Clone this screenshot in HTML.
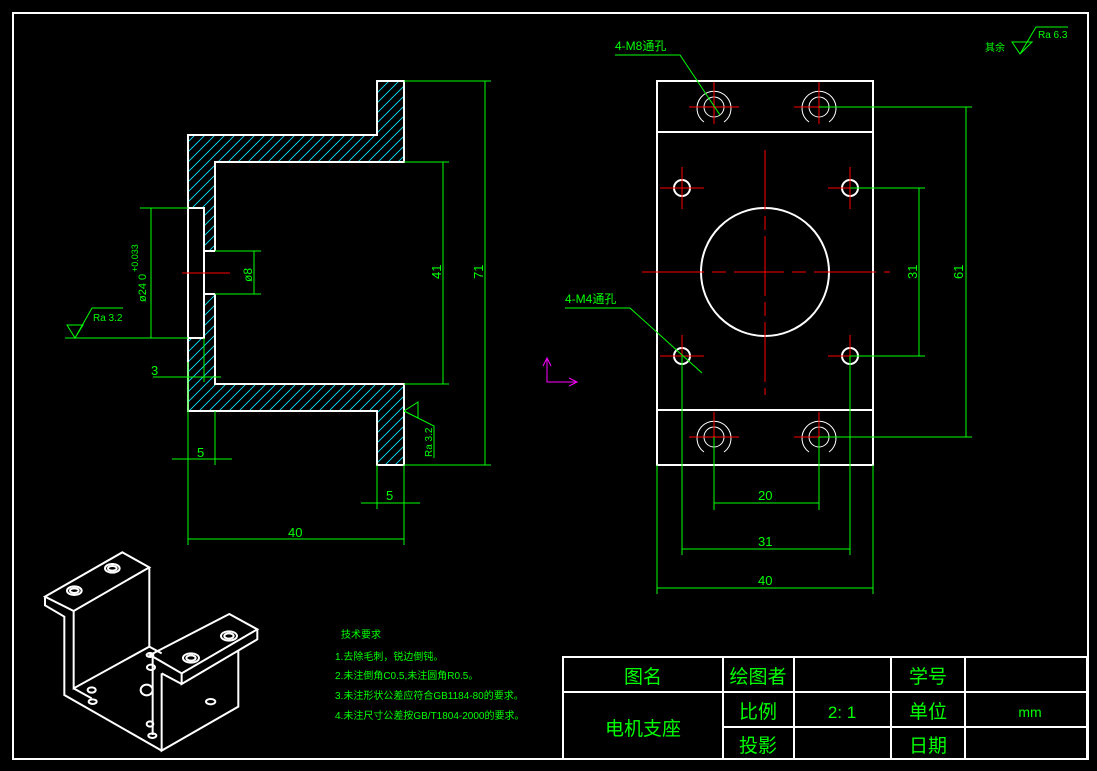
<!DOCTYPE html>
<html><head><meta charset="utf-8"><style>
html,body{margin:0;padding:0;background:#000;}
svg{display:block;}
text{font-family:"Liberation Sans","Noto Sans CJK SC",sans-serif;fill:#00ff00;}
</style></head><body>
<svg width="1097" height="771" viewBox="0 0 1097 771" xmlns="http://www.w3.org/2000/svg">
<defs>
<pattern id="h" patternUnits="userSpaceOnUse" width="10" height="10">
<path d="M0,10 L10,0 M-5,5 L5,-5 M5,15 L15,5" stroke="#00e5ff" stroke-width="0.9"/>
</pattern>
</defs>
<rect x="0" y="0" width="1097" height="771" fill="#000"/>
<rect x="13" y="13" width="1075" height="746" fill="none" stroke="#fff" stroke-width="2"/>

<!-- Section view -->
<path d="M188,135 L377,135 L377,81 L404,81 L404,162 L215,162 L215,384 L404,384 L404,465 L377,465 L377,411 L188,411 Z" fill="url(#h)" stroke="none"/>
<rect x="189" y="208" width="15" height="130" fill="#000"/>
<rect x="204" y="251" width="11" height="43" fill="#000"/>
<g stroke="#fff" stroke-width="2" fill="none">
<path d="M215,251 L215,162 L404,162 L404,81 L377,81 L377,135 L188,135 L188,411 L377,411 L377,465 L404,465 L404,384 L215,384 L215,294"/>
<path d="M188,208 L204,208 L204,338 L188,338 M204,251 L215,251 M204,294 L215,294"/>
</g>
<line x1="182" y1="273" x2="230" y2="273" stroke="#f00" stroke-width="1"/>
<g stroke="#00ff00" stroke-width="1" fill="none">
<path d="M404,81 L491,81 M404,465 L491,465 M485,81 L485,465"/>
<path d="M404,162 L449,162 M404,384 L449,384 M443,162 L443,384"/>
<path d="M140,208 L188,208 M65,338 L188,338 M151,208 L151,338"/>
<path d="M215,251 L261,251 M215,294 L261,294 M254,251 L254,294"/>
<path d="M153,377 L221,377 M188,362 L188,414 M204,338 L204,382"/>
<path d="M172,459 L232,459 M188,411 L188,465 M215,411 L215,465"/>
<path d="M361,503 L420,503 M377,465 L377,509 M404,465 L404,509"/>
<path d="M188,539 L404,539 M188,465 L188,545 M404,465 L404,545"/>
<path d="M67,325 L83,325 L75,338 Z M75,338 L92,308 L123,308"/>
<path d="M404,411 L418,402 L418,418 Z M404,411 L434,426 L434,458"/>
</g>
<text transform="translate(146,302) rotate(-90)" font-size="11">ø24 0</text>
<text transform="translate(138,272) rotate(-90)" font-size="9">+0.033</text>
<text transform="translate(252,282) rotate(-90)" font-size="12">ø8</text>
<text transform="translate(441,279) rotate(-90)" font-size="13">41</text>
<text transform="translate(483,279) rotate(-90)" font-size="13">71</text>
<text x="151" y="375" font-size="13">3</text>
<text x="197" y="457" font-size="13">5</text>
<text x="386" y="500" font-size="13">5</text>
<text x="288" y="537" font-size="13">40</text>
<text x="93" y="321" font-size="10">Ra 3.2</text>
<text transform="translate(432,457) rotate(-90)" font-size="10">Ra 3.2</text>

<!-- Top view -->
<g stroke="#fff" stroke-width="2" fill="none">
<rect x="657" y="81" width="216" height="384"/>
<path d="M657,132 L873,132 M657,410 L873,410"/>
<circle cx="765" cy="272" r="64"/>
<circle cx="682" cy="188" r="8"/><circle cx="850" cy="188" r="8"/>
<circle cx="682" cy="356" r="8"/><circle cx="850" cy="356" r="8"/>
</g>
<g stroke="#fff" stroke-width="1" fill="none">
<circle cx="714" cy="107" r="10"/><path d="M704,122 A17,17 0 1 1 724,122"/>
<circle cx="819" cy="107" r="10"/><path d="M809,122 A17,17 0 1 1 829,122"/>
<circle cx="714" cy="437" r="10"/><path d="M704,452 A17,17 0 1 1 724,452"/>
<circle cx="819" cy="437" r="10"/><path d="M809,452 A17,17 0 1 1 829,452"/>
</g>
<g stroke="#f00" stroke-width="1" fill="none">
<path d="M689,107 L739,107 M714,82 L714,124 M794,107 L844,107 M819,82 L819,124"/>
<path d="M689,437 L739,437 M714,412 L714,455 M794,437 L844,437 M819,412 L819,455"/>
<path d="M660,188 L704,188 M682,167 L682,209 M828,188 L872,188 M850,167 L850,209"/>
<path d="M660,356 L704,356 M682,335 L682,377 M828,356 L872,356 M850,335 L850,377"/>
<path d="M765,150 L765,395" stroke-dasharray="60,6,14,6"/>
<path d="M642,272 L890,272" stroke-dasharray="62,8,14,8,50,8,14,8"/>
</g>
<g stroke="#00ff00" stroke-width="1" fill="none">
<path d="M819,107 L972,107 M819,437 L972,437 M966,107 L966,437"/>
<path d="M850,188 L925,188 M850,356 L925,356 M919,188 L919,356"/>
<path d="M714,437 L714,510 M819,437 L819,510 M714,503 L819,503"/>
<path d="M682,356 L682,555 M850,356 L850,555 M682,549 L850,549"/>
<path d="M657,465 L657,594 M873,465 L873,594 M657,588 L873,588"/>
<path d="M615,55 L680,55 L720,115"/>
<path d="M565,308 L630,308 L702,373"/>
<path d="M1012,42 L1032,42 L1020,54 Z M1020,54 L1036,27 L1068,27"/>
</g>
<g stroke="#ff00ff" stroke-width="1" fill="none">
<path d="M547,358 L547,382 L577,382 M543,366 L547,358 L551,366 M569,378 L577,382 L569,386"/>
</g>
<text x="615" y="50" font-size="12">4-M8通孔</text>
<text x="565" y="303" font-size="12">4-M4通孔</text>
<text x="985" y="51" font-size="10">其余</text>
<text x="1038" y="38" font-size="10">Ra 6.3</text>
<text transform="translate(917,279) rotate(-90)" font-size="13">31</text>
<text transform="translate(963,279) rotate(-90)" font-size="13">61</text>
<text x="758" y="500" font-size="13">20</text>
<text x="758" y="546" font-size="13">31</text>
<text x="758" y="585" font-size="13">40</text>

<!-- Isometric -->
<g transform="translate(30,540) scale(0.3333)" stroke="#fff" stroke-width="6" fill="none">
<path d="M45,170 L277,37 L358,82 L131,213 Z"/>
<path d="M45,170 L45,196 L103,230 L103,465 L395,632"/>
<path d="M131,213 L131,445 L358,320 L358,82"/>
<path d="M131,445 L185,475 M358,320 L395,340"/>
<path d="M360,345 L598,222 L682,268 L455,400 Z"/>
<path d="M455,400 L455,432 L682,298 L682,268"/>
<path d="M395,400 L455,432 M395,400 L395,632 L625,500 L625,330"/>
<path d="M368,345 L368,585"/>
<ellipse cx="247" cy="85" rx="22" ry="13"/><ellipse cx="247" cy="85" rx="13" ry="7"/>
<ellipse cx="133" cy="152" rx="22" ry="13"/><ellipse cx="133" cy="152" rx="13" ry="7"/>
<ellipse cx="597" cy="288" rx="24" ry="14"/><ellipse cx="597" cy="288" rx="14" ry="8"/>
<ellipse cx="483" cy="354" rx="24" ry="14"/><ellipse cx="483" cy="354" rx="14" ry="8"/>
<ellipse cx="185" cy="450" rx="12" ry="8"/><ellipse cx="188" cy="485" rx="12" ry="7"/>
<ellipse cx="360" cy="345" rx="10" ry="6"/><ellipse cx="363" cy="382" rx="12" ry="8"/>
<ellipse cx="350" cy="450" rx="18" ry="16"/><ellipse cx="360" cy="552" rx="10" ry="8"/>
<ellipse cx="367" cy="587" rx="12" ry="7"/><ellipse cx="542" cy="485" rx="14" ry="8"/>
</g>

<!-- tech notes -->
<g font-size="10">
<text x="341" y="638">技术要求</text>
<text x="335" y="660">1.去除毛刺，锐边倒钝。</text>
<text x="335" y="679">2.未注倒角C0.5,未注圆角R0.5。</text>
<text x="335" y="699">3.未注形状公差应符合GB1184-80的要求。</text>
<text x="335" y="719">4.未注尺寸公差按GB/T1804-2000的要求。</text>
</g>

<!-- title block -->
<g stroke="#fff" stroke-width="2" fill="none">
<rect x="563" y="657" width="524" height="102"/>
<path d="M563,692 L1087,692 M723,727 L1087,727 M723,657 L723,759 M794,657 L794,759 M891,657 L891,759 M965,657 L965,759"/>
</g>
<g font-size="19" text-anchor="middle">
<text x="643" y="683">图名</text>
<text x="643" y="735">电机支座</text>
<text x="758" y="683">绘图者</text>
<text x="758" y="718">比例</text>
<text x="758" y="752">投影</text>
<text x="842" y="718" font-size="17">2: 1</text>
<text x="928" y="683">学号</text>
<text x="928" y="718">单位</text>
<text x="928" y="752">日期</text>
<text x="1030" y="717" font-size="14">mm</text>
</g>
</svg>
</body></html>
